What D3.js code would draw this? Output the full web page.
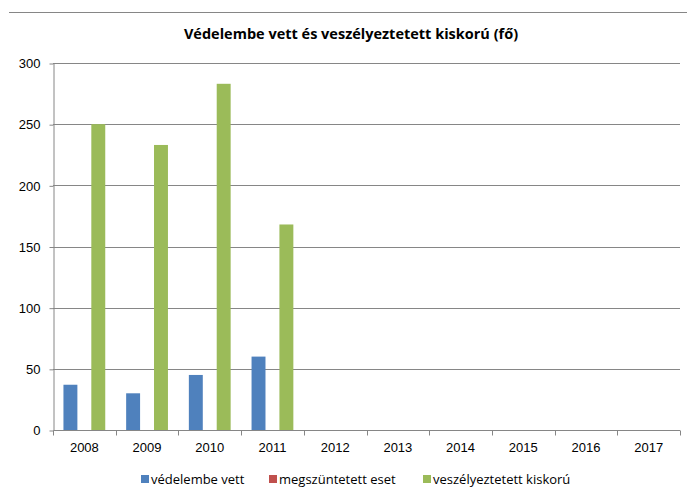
<!DOCTYPE html>
<html>
<head>
<meta charset="utf-8">
<script src="https://cdn.jsdelivr.net/npm/d3@7"></script>
<style>
  body { margin: 0; background: #fff; }
  svg { display: block; font-family: "Open Sans", "DejaVu Sans", sans-serif; }
</style>
</head>
<body>
<div id="vis"></div>
<script>
// chart data
var years = ['2008', '2009', '2010', '2011', '2012', '2013', '2014', '2015', '2016', '2017'];
var seriesNames = ['védelembe vett', 'megszüntetett eset', 'veszélyeztetett kiskorú'];
var vedelembeVett = [37, 30, 45, 60, 0, 0, 0, 0, 0, 0];
var megszuntetett = [0, 0, 0, 0, 0, 0, 0, 0, 0, 0];
var veszelyeztetett = [250, 233, 283, 168, 0, 0, 0, 0, 0, 0];
var yTicks = [0, 50, 100, 150, 200, 250, 300];
var colors = ['#4F81BD', '#C0504D', '#9BBB59'];

var width = 687;
var height = 495;
var margin = { top: 63, left: 53, bottom: 65, right: 7 };

var svg = d3.select('#vis').append('svg')
  .attr('width', width)
  .attr('height', height);

// top border line of chart area
svg.append('line')
  .attr('x1', 9).attr('x2', width)
  .attr('y1', 12.5).attr('y2', 12.5)
  .attr('stroke', '#868686');

svg.append('text')
  .attr('x', 351)
  .attr('y', 39)
  .attr('text-anchor', 'middle')
  .style('font-size', '14.5px')
  .style('font-weight', 'bold')
  .text('Védelembe vett és veszélyeztetett kiskorú (fő)');

var x = d3.scaleBand()
  .domain(years)
  .range([margin.left, width - margin.right]);

var xInner = d3.scaleBand()
  .domain(d3.range(3))
  .range([0, x.bandwidth()])
  .paddingInner(0)
  .paddingOuter(0.75);

var y = d3.scaleLinear()
  .domain([0, 300])
  .range([height - margin.bottom, margin.top]);

var g = svg.append('g');

// gridlines
g.selectAll('.grid')
  .data(yTicks.slice(1))
  .enter().append('line')
  .attr('class', 'grid')
  .attr('x1', margin.left)
  .attr('x2', width - margin.right)
  .attr('y1', function (d) { return Math.round(y(d)) + 0.5; })
  .attr('y2', function (d) { return Math.round(y(d)) + 0.5; })
  .attr('stroke', '#868686');

// y axis
var yAxis = d3.axisLeft(y)
  .tickValues(yTicks)
  .tickSize(4)
  .tickPadding(9)
  .tickSizeOuter(0);

g.append('g')
  .attr('class', 'y axis')
  .attr('transform', 'translate(' + (margin.left + 0.5) + ',0.5)')
  .call(yAxis);

// bars
var series = [vedelembeVett, megszuntetett, veszelyeztetett];
series.forEach(function (vals, si) {
  g.selectAll('.bar' + si)
    .data(vals)
    .enter().append('rect')
    .attr('class', 'bar' + si)
    .attr('x', function (d, i) { return x(years[i]) + xInner(si); })
    .attr('width', xInner.bandwidth())
    .attr('y', function (d) { return y(d); })
    .attr('height', function (d) { return y(0) - y(d); })
    .attr('fill', colors[si]);
});

// x axis
var xAxis = d3.axisBottom(x)
  .tickSize(0)
  .tickPadding(12);

var xg = g.append('g')
  .attr('class', 'x axis')
  .attr('transform', 'translate(0,' + (Math.round(y(0)) + 0.5) + ')')
  .call(xAxis);
xg.select('.domain').attr('d', 'M' + (margin.left + 0.5) + ',0H' + (width - margin.right));

// category boundary ticks
xg.selectAll('.sep')
  .data(d3.range(years.length + 1))
  .enter().append('line')
  .attr('class', 'sep')
  .attr('x1', function (i) { return Math.round(margin.left + i * x.step()) + 0.5; })
  .attr('x2', function (i) { return Math.round(margin.left + i * x.step()) + 0.5; })
  .attr('y1', 0)
  .attr('y2', 5)
  .attr('stroke', '#868686');

svg.selectAll('.axis .domain').attr('stroke', '#868686');
svg.selectAll('.axis .tick line').attr('stroke', '#868686');
svg.selectAll('.axis text')
  .style('font-size', '13px')
  .attr('fill', '#000');

// legend
var legendX = [141, 269, 423];
var legend = svg.selectAll('.legend')
  .data(seriesNames)
  .enter().append('g')
  .attr('class', 'legend')
  .attr('transform', function (d, i) { return 'translate(' + legendX[i] + ',474)'; });

legend.append('rect')
  .attr('width', 8)
  .attr('height', 8)
  .attr('y', 1)
  .attr('fill', function (d, i) { return colors[i]; });

legend.append('text')
  .attr('x', 10)
  .attr('y', 9.5)
  .style('font-size', '13px')
  .text(function (d) { return d; });
</script>
</body>
</html>
